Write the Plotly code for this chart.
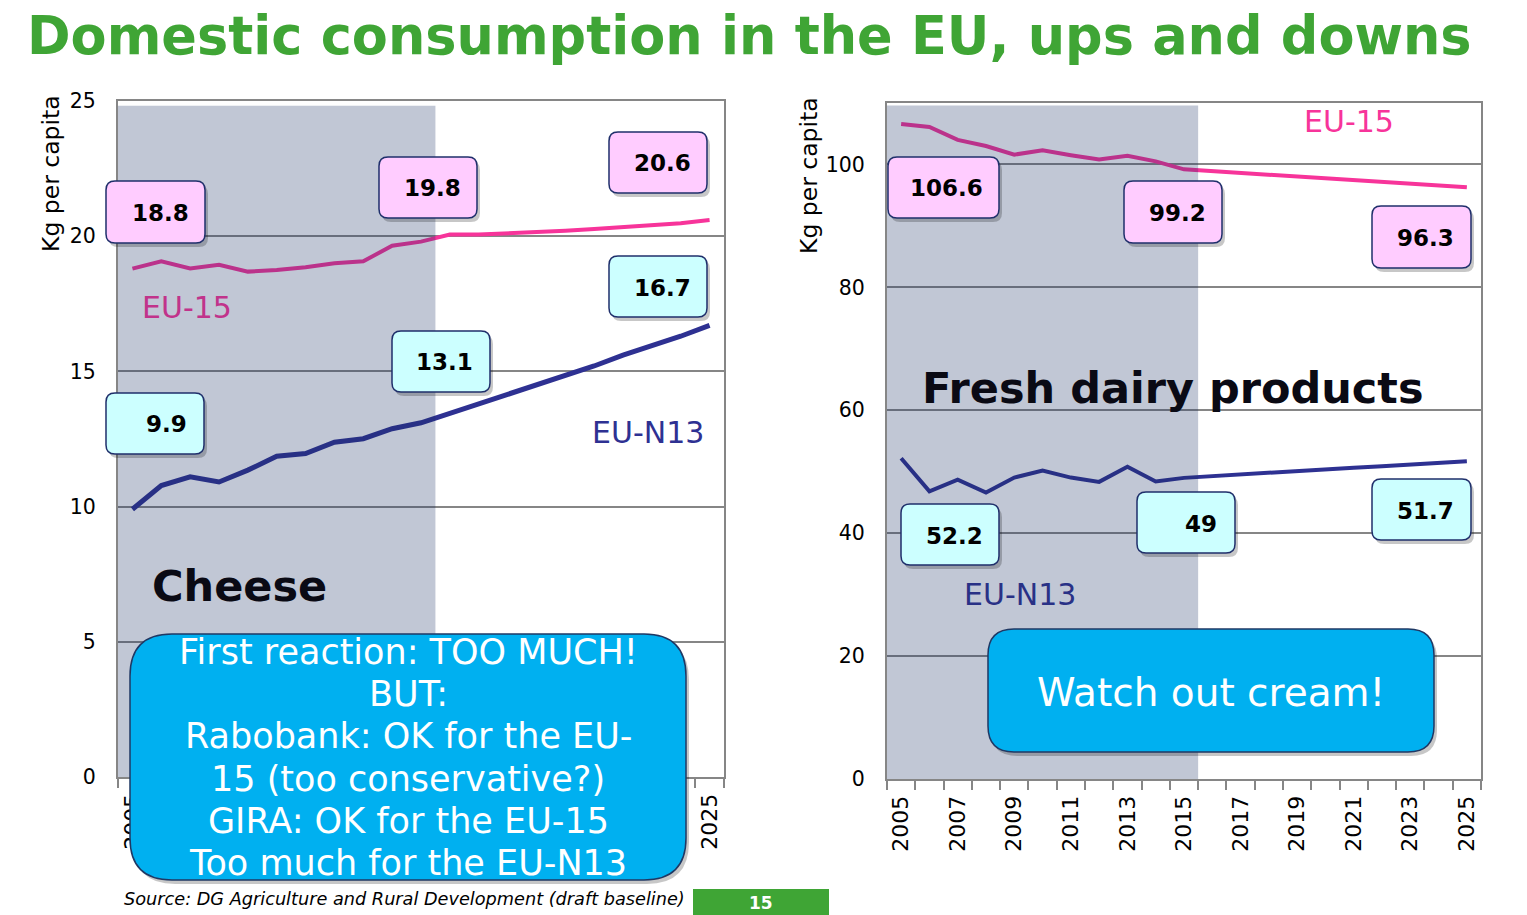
import plotly.graph_objects as go

W, H = 1527, 915

# ---------------- data ----------------
years = list(range(2005, 2026))
cheese_eu15 = [18.8, 19.07, 18.81, 18.94, 18.69, 18.75, 18.85, 19.0, 19.07, 19.65, 19.8,
               20.06, 20.06, 20.1, 20.15, 20.2, 20.27, 20.33, 20.4, 20.48, 20.6]
cheese_n13 = [9.9, 10.78, 11.1, 10.91, 11.35, 11.86, 11.96, 12.38, 12.51, 12.88, 13.1,
              13.45, 13.8, 14.15, 14.5, 14.85, 15.2, 15.6, 15.95, 16.3, 16.7]
fresh_eu15 = [106.6, 106.1, 104.0, 103.0, 101.6, 102.3, 101.5, 100.8, 101.4, 100.5, 99.2,
              98.9, 98.6, 98.3, 98.0, 97.7, 97.4, 97.1, 96.8, 96.55, 96.3]
fresh_n13 = [52.2, 46.8, 48.7, 46.6, 49.05, 50.2, 49.05, 48.35, 50.8, 48.4, 49.0,
             49.3, 49.6, 49.85, 50.1, 50.4, 50.65, 50.9, 51.15, 51.45, 51.7]
label_years = [2005, 2015, 2025]
xtick_years = list(range(2005, 2026, 2))
history_end = 2015

title_text = "Domestic consumption in the EU, ups and downs"
source_text = "Source: DG Agriculture and Rural Development (draft baseline)"
left_note = ["First reaction: TOO MUCH!", "BUT:", "Rabobank: OK for the EU-",
             "15 (too conservative?)", "GIRA: OK for the EU-15", "Too much for the EU-N13"]
right_note = "Watch out cream!"
page_number = "15"

# ---------------- style ----------------
FONT = "DejaVu Sans, Verdana, sans-serif"
PINK = "#F7349A"
PINK_DARK = "#C1338B"
NAVY = "#2E3192"
NAVY_DARK = "#293186"
GRID = "#868686"
GREEN = "#3FA535"
SHADE = "rgba(26,48,100,0.27)"
BOX_BORDER = "#1F2F6B"


def px(x):
    return x / W


def py(y):
    return 1 - y / H


def rrect_path(x0, y0, x1, y1, r):
    X = lambda v: f"{px(v):.6f}"
    Y = lambda v: f"{py(v):.6f}"
    return (f"M {X(x0 + r)} {Y(y0)} L {X(x1 - r)} {Y(y0)} Q {X(x1)} {Y(y0)} {X(x1)} {Y(y0 + r)} "
            f"L {X(x1)} {Y(y1 - r)} Q {X(x1)} {Y(y1)} {X(x1 - r)} {Y(y1)} "
            f"L {X(x0 + r)} {Y(y1)} Q {X(x0)} {Y(y1)} {X(x0)} {Y(y1 - r)} "
            f"L {X(x0)} {Y(y0 + r)} Q {X(x0)} {Y(y0)} {X(x0 + r)} {Y(y0)} Z")


fig = go.Figure()

fig.add_trace(go.Scatter(x=years, y=cheese_eu15, mode="lines", line=dict(color=PINK, width=4),
                         xaxis="x", yaxis="y", showlegend=False, hoverinfo="skip"))
fig.add_trace(go.Scatter(x=years, y=cheese_n13, mode="lines", line=dict(color=NAVY, width=5),
                         xaxis="x", yaxis="y", showlegend=False, hoverinfo="skip"))
fig.add_trace(go.Scatter(x=years, y=fresh_eu15, mode="lines", line=dict(color=PINK, width=4),
                         xaxis="x2", yaxis="y2", showlegend=False, hoverinfo="skip"))
fig.add_trace(go.Scatter(x=years, y=fresh_n13, mode="lines", line=dict(color=NAVY, width=4),
                         xaxis="x2", yaxis="y2", showlegend=False, hoverinfo="skip"))

xr = [years[0] - 0.5, years[-1] + 0.5]
minor_vals = [y - 0.5 for y in years] + [years[-1] + 0.5]


def xaxis_cfg(x0, x1, anchor):
    return dict(domain=[px(x0), px(x1)], range=xr, anchor=anchor, automargin=False,
                tickmode="array", tickvals=xtick_years, ticktext=[str(v) for v in xtick_years],
                tickangle=-90, ticks="", showgrid=False, zeroline=False,
                showline=True, linecolor=GRID, linewidth=2, mirror=True,
                tickfont=dict(family=FONT, size=22, color="black"),
                ticklabelstandoff=6,
                minor=dict(tickmode="array", tickvals=minor_vals, ticks="outside",
                           ticklen=9, tickwidth=2, tickcolor=GRID, showgrid=False))


def yaxis_cfg(y0, y1, anchor, rng, vals):
    return dict(domain=[py(y1), py(y0)], range=rng, anchor=anchor, automargin=False,
                tickmode="array", tickvals=vals, ticks="", showgrid=True,
                gridcolor=GRID, gridwidth=2, zeroline=False,
                showline=True, linecolor=GRID, linewidth=2, mirror=True,
                tickfont=dict(family=FONT, size=20.5, color="black"),
                ticklabelstandoff=16)


fig.update_layout(
    template="none",
    width=W, height=H, margin=dict(l=0, r=0, t=0, b=0, pad=0, autoexpand=False),
    paper_bgcolor="white", plot_bgcolor="white", showlegend=False,
    xaxis=xaxis_cfg(118, 724, "y"),
    yaxis=yaxis_cfg(101, 777, "x", [0, 25], [0, 5, 10, 15, 20, 25]),
    xaxis2=xaxis_cfg(887, 1481, "y2"),
    yaxis2=yaxis_cfg(103, 779, "x2", [0, 110], [0, 20, 40, 60, 80, 100]),
)

shapes = []
# historical shading (overlay above lines)
shapes.append(dict(type="rect", xref="x", yref="y", x0=xr[0], x1=history_end + 0.5, y0=0, y1=24.82,
                   fillcolor=SHADE, line=dict(width=0), layer="above"))
shapes.append(dict(type="rect", xref="x2", yref="y2", x0=xr[0], x1=history_end + 0.5, y0=0, y1=109.6,
                   fillcolor=SHADE, line=dict(width=0), layer="above"))

annotations = []


def add_box(x0, y0, x1, y1, r, fill, border, bw=1.5, shadow=True):
    if shadow:
        shapes.append(dict(type="path", xref="paper", yref="paper",
                           path=rrect_path(x0 + 3, y0 + 4, x1 + 3, y1 + 4, r),
                           fillcolor="rgba(0,0,0,0.22)", line=dict(width=0), layer="above"))
    shapes.append(dict(type="path", xref="paper", yref="paper", path=rrect_path(x0, y0, x1, y1, r),
                       fillcolor=fill, line=dict(color=border, width=bw), layer="above"))


def add_text(x, y, text, size, color="black", bold=False, italic=False, xanchor="center"):
    annotations.append(dict(xref="paper", yref="paper", x=px(x), y=py(y), text=text,
                            showarrow=False, xanchor=xanchor, yanchor="middle",
                            font=dict(family=FONT, size=size, color=color,
                                      weight="bold" if bold else "normal",
                                      style="italic" if italic else "normal")))


def fmt(v):
    return f"{v:g}"


idx = [years.index(y) for y in label_years]

# value label boxes: (box px, text centre px)
cheese_eu15_boxes = [((106, 181, 205, 243), (160, 213)), ((379, 157, 477, 218), (432, 188)),
                     ((609, 132, 707, 193), (662, 163))]
cheese_n13_boxes = [((106, 393, 204, 454), (166, 424)), ((392, 331, 490, 392), (444, 362)),
                    ((609, 256, 707, 317), (662, 288))]
fresh_eu15_boxes = [((888, 157, 999, 218), (946, 188)), ((1124, 181, 1222, 243), (1177, 213)),
                    ((1372, 206, 1471, 268), (1425, 238))]
fresh_n13_boxes = [((901, 504, 999, 565), (954, 536)), ((1137, 492, 1235, 553), (1201, 524)),
                   ((1372, 479, 1471, 540), (1425, 511))]

for series, boxes, fill in [(cheese_eu15, cheese_eu15_boxes, "#FFCCFF"),
                            (cheese_n13, cheese_n13_boxes, "#CCFFFF"),
                            (fresh_eu15, fresh_eu15_boxes, "#FFCCFF"),
                            (fresh_n13, fresh_n13_boxes, "#CCFFFF")]:
    for i, (b, t) in zip(idx, boxes):
        add_box(*b, 9, fill, BOX_BORDER)
        add_text(t[0], t[1], fmt(series[i]), 23, bold=True)

# series names
add_text(187, 307, "EU-15", 30, PINK_DARK)
add_text(648, 432, "EU-N13", 30, NAVY)
add_text(1349, 122, "EU-15", 30, PINK)
add_text(1020, 594, "EU-N13", 30, NAVY_DARK)

# panel titles
add_text(239, 586, "Cheese", 43, "#0A0A14", bold=True)
add_text(1172, 388, "Fresh dairy products", 43, "#0A0A14", bold=True)

# y-axis titles
for x, yc in [(51, 174), (809, 176)]:
    annotations.append(dict(xref="paper", yref="paper", x=px(x), y=py(yc), text="Kg per capita",
                            showarrow=False, textangle=-90, xanchor="center", yanchor="middle",
                            font=dict(family=FONT, size=23.5, color="black")))

# callouts
add_box(130, 634, 686, 880, 42, "#00B0F0", "#1F3864", bw=1.5)
for k, line in enumerate(left_note):
    add_text(408, 652 + 42.2 * k, line, 35, "white")
add_box(988, 629, 1434, 752, 26, "#00B0F0", "#1F3864", bw=1.5)
add_text(1211, 692, right_note, 39, "white")

# main title
add_text(749, 35, title_text, 52.5, GREEN, bold=True)

# source and page number
add_text(122, 899, source_text, 17.7, "black", italic=True, xanchor="left")
shapes.append(dict(type="rect", xref="paper", yref="paper", x0=px(693), x1=px(829), y0=py(915), y1=py(889),
                   fillcolor=GREEN, line=dict(width=0), layer="above"))
add_text(761, 903, page_number, 17, "white", bold=True)

fig.update_layout(shapes=shapes, annotations=annotations)

fig.write_html("out.html", config={"displayModeBar": False},
               post_script="document.body.style.margin='0';document.body.style.overflow='hidden';")
